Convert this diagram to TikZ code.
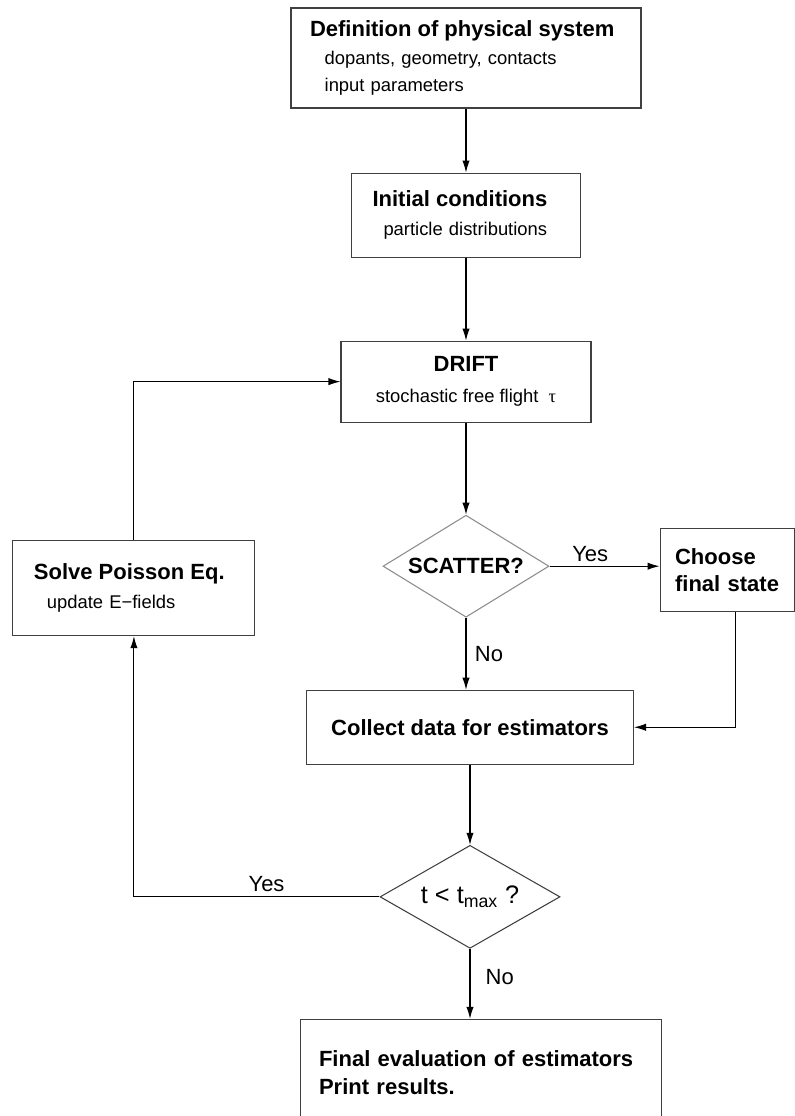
\documentclass[tikz,border=0pt]{standalone}
\usepackage{fontspec}
\setmainfont{Liberation Sans}
\setsansfont{Liberation Sans}
\newfontfamily\greekfont{Liberation Serif}
\usetikzlibrary{positioning, shapes.geometric, arrows.meta}

\newcommand{\headtxt}{\fontsize{16.5pt}{20.5pt}\selectfont\bfseries}
\newcommand{\subtxt}{\fontsize{13.8pt}{20.5pt}\selectfont}

\tikzset{
  block/.style={rectangle, draw=black!75, line width=0.8pt, font=\subtxt},
  decision/.style={diamond, draw=black!75, line width=0.8pt, inner sep=0pt},
  lbl/.style={font=\fontsize{16.5pt}{20pt}\selectfont}
}

\begin{document}
\begin{tikzpicture}[font=\sffamily,
                    >={Latex[length=9pt,width=5.5pt]},
                    line width=0.8pt]

    \useasboundingbox (0,0) rectangle (595.5pt,-837pt);

    \node[block,
          minimum height=75pt,
          text width=234pt,
          inner xsep=14.25pt,
          align=left] (def) at (349.5pt,-43.5pt)
        {{\headtxt Definition of physical system}\\
         \hspace*{11pt}dopants, geometry, contacts\\
         \hspace*{11pt}input parameters};
    \node[block,
          below=48pt of def,
          minimum height=63pt,
          text width=140.25pt,
          inner xsep=15.75pt,
          align=left] (init)
        {{\headtxt Initial conditions}\\[1.5pt]
         \hspace*{8.25pt}particle distributions};
    \node[block,
          below=62.25pt of init,
          minimum width=187.5pt,
          minimum height=60.75pt,
          align=center] (drift)
        {{\headtxt DRIFT}\\[2.5pt]
         stochastic free flight\ \ {\greekfont τ}};
    \node[decision,
          below=69pt of drift,
          aspect=1.63,
          minimum width=124.5pt,
          minimum height=76.5pt,
          draw=black!45,
          font=\headtxt] (scatter) {SCATTER?};
    \node[block,
          right=82.5pt of scatter,
          yshift=-3pt,
          minimum height=62.25pt,
          text width=78pt,
          inner xsep=11.25pt,
          align=left,
          font=\headtxt] (choose) {Choose\\final state};
    \node[block,
          left=95.25pt of scatter,
          yshift=-16.5pt,
          minimum height=71.25pt,
          text width=150pt,
          inner xsep=15.75pt,
          align=left] (solve)
        {{\headtxt Solve Poisson Eq.}\\[1pt]
         \hspace*{9.75pt}update E−fields};
    \node[block,
          below=54pt of scatter,
          xshift=3pt,
          minimum width=245.25pt,
          minimum height=55.5pt,
          font=\headtxt] (collect) {Collect data for estimators};
    \node[decision,
          below=60pt of collect,
          aspect=1.75,
          minimum width=135pt,
          minimum height=77.25pt,
          font=\fontsize{19pt}{22pt}\selectfont] (tmax) {t < t\textsubscript{max} ?};
    \node[block,
          below=52.5pt of tmax,
          xshift=7.9pt,
          minimum height=80pt,
          text width=242.25pt,
          inner xsep=14.25pt,
          align=left,
          font=\headtxt] (final)
        {Final evaluation of estimators\\
         Print results.};

    % main column
    \draw[->] (def) -- (init);
    \draw[->] (init) -- (drift);
    \draw[->] (drift) -- (scatter);
    \draw[->] (scatter.east) -- node[lbl, above, pos=0.37] {Yes}
        (scatter.east -| choose.west);
    \draw[->] (scatter.south) -- node[lbl, right, xshift=3pt] {No}
        (scatter.south |- collect.north);
    \draw[->] ([xshift=6.4pt]choose.south) |- (collect.east);
    \draw[->] (collect) -- (tmax);
    \draw[->] (tmax.south) -- node[lbl, right, xshift=8pt, pos=0.4] {No}
        (tmax.south |- final.north);

    % loop back
    \draw[->] (tmax.west) -| node[lbl, above, pos=0.23] {Yes} (solve.south);
    \draw[->] (solve.north) |- (drift.west);
\end{tikzpicture}
\end{document}
